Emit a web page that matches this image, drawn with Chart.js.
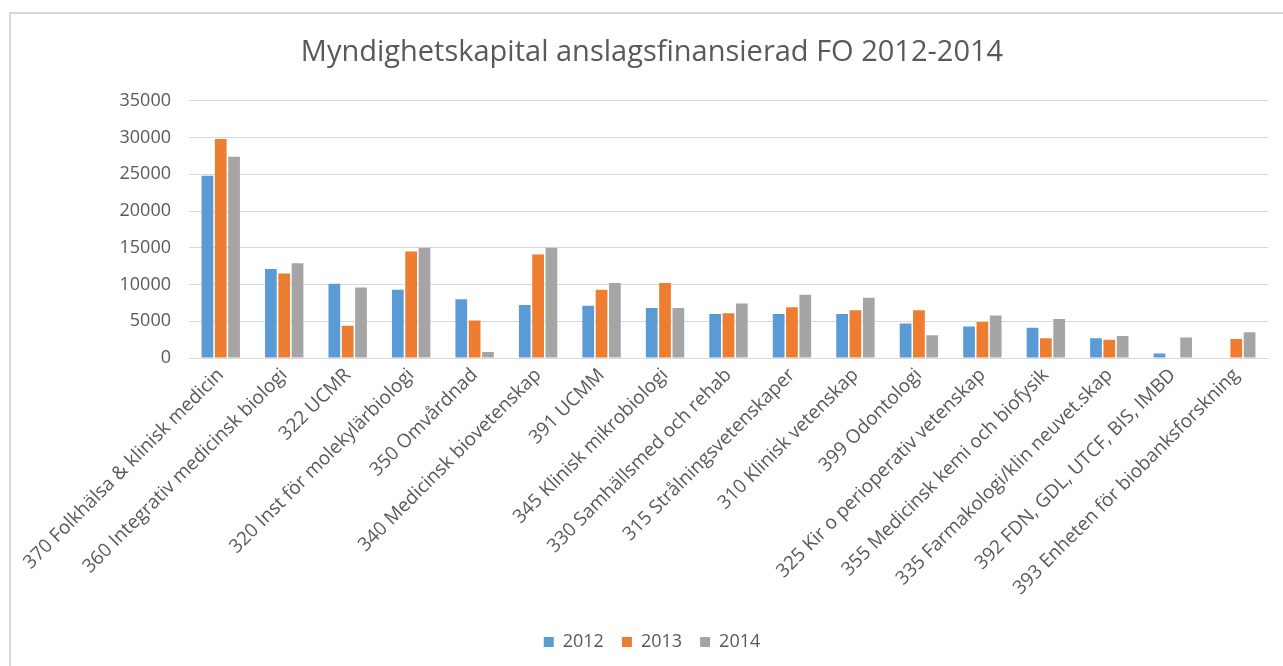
<!DOCTYPE html>
<html>
<head>
<meta charset="utf-8">
<script src="https://cdn.jsdelivr.net/npm/chart.js@4/dist/chart.umd.min.js"></script>
<style>
  html, body { margin: 0; padding: 0; background: #fff; }
  #wrap { position: relative; width: 1283px; height: 666px; overflow: hidden; }
  #frame { position: absolute; left: 9px; top: 12px; width: 1300px; height: 700px; border: 2px solid #D9D9D9; box-sizing: border-box; }
  canvas { position: absolute; left: 0; top: 0; }
</style>
</head>
<body>
<div id="wrap">
  <div id="frame"></div>
  <canvas id="c" width="1283" height="666"></canvas>
</div>
<script>
const categories = [
  "370 Folkhälsa & klinisk medicin",
  "360 Integrativ medicinsk biologi",
  "322 UCMR",
  "320 Inst för molekylärbiologi",
  "350 Omvårdnad",
  "340 Medicinsk biovetenskap",
  "391 UCMM",
  "345 Klinisk mikrobiologi",
  "330 Samhällsmed och rehab",
  "315 Strålningsvetenskaper",
  "310 Klinisk vetenskap",
  "399 Odontologi",
  "325 Kir o perioperativ vetenskap",
  "355 Medicinsk kemi och biofysik",
  "335 Farmakologi/klin neuvet.skap",
  "392 FDN, GDL, UTCF, BIS, IMBD",
  "393 Enheten för biobanksforskning"
];
const values2012 = [24800, 12100, 10100, 9300, 8000, 7200, 7100, 6800, 6000, 6000, 6000, 4700, 4300, 4100, 2700, 600, null];
const values2013 = [29800, 11500, 4400, 14500, 5100, 14100, 9300, 10200, 6100, 6900, 6500, 6500, 4900, 2700, 2500, null, 2600];
const values2014 = [27400, 12900, 9600, 15000, 800, 15000, 10200, 6800, 7400, 8600, 8200, 3100, 5800, 5300, 3000, 2800, 3500];
const yTicks = [0, 5000, 10000, 15000, 20000, 25000, 30000, 35000];
const seriesNames = ["2012", "2013", "2014"];
const titleText = "Myndighetskapital anslagsfinansierad FO 2012-2014";

const FONT = "'Open Sans', 'DejaVu Sans', sans-serif";
const TXT = "#595959";

new Chart(document.getElementById("c"), {
  type: "bar",
  data: {
    labels: categories,
    datasets: [
      { label: seriesNames[0], data: values2012, backgroundColor: "#5B9BD5" },
      { label: seriesNames[1], data: values2013, backgroundColor: "#ED7D31" },
      { label: seriesNames[2], data: values2014, backgroundColor: "#A5A5A5" }
    ]
  },
  options: {
    responsive: false,
    animation: false,
    devicePixelRatio: 1,
    layout: { padding: { left: 36, right: 15, top: 35, bottom: 5 } },
    datasets: { bar: { categoryPercentage: 0.63, barPercentage: 0.88 } },
    plugins: {
      title: {
        display: true,
        text: titleText,
        color: TXT,
        font: { family: FONT, size: 29, weight: "normal" },
        padding: { top: 0, bottom: 31 }
      },
      legend: {
        position: "bottom",
        labels: {
          color: TXT,
          font: { family: FONT, size: 18 },
          boxWidth: 10,
          boxHeight: 10,
          padding: 18
        }
      },
      tooltip: { enabled: false }
    },
    scales: {
      x: {
        grid: { display: false, drawTicks: false },
        border: { display: true, color: "#D9D9D9", width: 1 },
        ticks: {
          color: TXT,
          font: { family: FONT, size: 19 },
          maxRotation: 45,
          minRotation: 45,
          autoSkip: false,
          padding: 6
        },
        afterFit: (s) => { s.height = 257; }
      },
      y: {
        min: 0,
        max: 35000,
        afterBuildTicks: (s) => { s.ticks = yTicks.map(v => ({ value: v })); },
        grid: { color: "#D9D9D9", lineWidth: 1, drawTicks: false },
        border: { display: false },
        ticks: {
          color: TXT,
          font: { family: FONT, size: 18 },
          padding: 18,
          callback: (v) => String(v)
        },
        afterFit: (s) => { s.width = 153; }
      }
    }
  }
});
</script>
</body>
</html>
